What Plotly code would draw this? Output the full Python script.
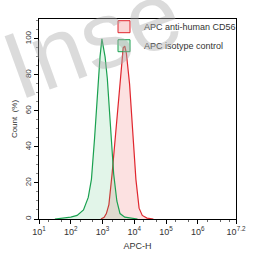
import plotly.graph_objects as go

# Isotype control histogram (log10 APC-H, % count)
iso_log = [1.5, 1.7, 2.0, 2.2, 2.4, 2.55, 2.65, 2.75, 2.85, 2.92, 2.98, 3.02, 3.08, 3.15, 3.25, 3.35, 3.45, 3.55, 3.7, 3.9, 4.1]
iso_val = [0, 0.5, 1, 2, 5, 12, 22, 45, 75, 90, 100, 96, 90, 78, 50, 25, 10, 3, 1, 0.3, 0]

# Anti-human CD56 histogram
cd56_log = [2.95, 3.05, 3.12, 3.2, 3.3, 3.4, 3.5, 3.6, 3.65, 3.7, 3.75, 3.85, 3.95, 4.05, 4.15, 4.25, 4.4, 4.6]
cd56_val = [0, 1, 3, 8, 25, 45, 68, 88, 95, 96, 92, 75, 50, 22, 6, 2, 0.5, 0]

series_names = ["APC anti-human CD56", "APC isotype control"]
tick_exp = [1, 2, 3, 4, 5, 6, 7.2]
tick_text = ["10<sup>1</sup>", "10<sup>2</sup>", "10<sup>3</sup>", "10<sup>4</sup>",
             "10<sup>5</sup>", "10<sup>6</sup>", "10<sup>7.2</sup>"]
y_ticks = [0, 20, 40, 60, 80, 100]

red_line, red_fill = "#e0262e", "rgba(240,120,120,0.22)"
green_line, green_fill = "#1aa150", "rgba(60,190,110,0.15)"

fig = go.Figure()
fig.add_trace(go.Scatter(
    x=[10 ** v for v in cd56_log], y=cd56_val, mode="lines", showlegend=False,
    line=dict(color=red_line, width=1.2), fill="tozeroy", fillcolor=red_fill))
fig.add_trace(go.Scatter(
    x=[10 ** v for v in iso_log], y=iso_val, mode="lines", showlegend=False,
    line=dict(color=green_line, width=1.2), fill="tozeroy", fillcolor=green_fill))
# legend entries (box symbols)
fig.add_trace(go.Bar(x=[None], y=[None], name=series_names[0],
                     marker=dict(color="rgba(240,120,120,0.3)", line=dict(color=red_line, width=1))))
fig.add_trace(go.Bar(x=[None], y=[None], name=series_names[1],
                     marker=dict(color="rgba(60,190,110,0.2)", line=dict(color=green_line, width=1))))

fig.update_layout(
    width=258, height=261,
    margin=dict(l=39, r=14, t=17, b=39),
    paper_bgcolor="white", plot_bgcolor="white",
    font=dict(family="Liberation Sans, Arial", size=8, color="#333"),
    showlegend=True,
    legend=dict(x=0.33, y=1.034, xanchor="left", yanchor="top", bgcolor="rgba(0,0,0,0)",
                font=dict(size=9, color="#333"), itemwidth=30, tracegroupgap=0),
)
fig.update_xaxes(
    type="log", range=[1, 7.2],
    tickvals=[10 ** e for e in tick_exp], ticktext=tick_text, tickfont=dict(size=9),
    ticks="outside", ticklen=4, tickcolor="#000", showline=True, linecolor="#000", linewidth=1,
    mirror=True, showgrid=False, zeroline=False,
    minor=dict(ticks="outside", ticklen=2, tickcolor="#666", showgrid=False),
    title=dict(text="APC-H", font=dict(size=9), standoff=6),
)
fig.update_yaxes(
    range=[0, 111], tickvals=y_ticks, tickangle=-90,
    ticks="outside", ticklen=4, tickcolor="#000", showline=True, linecolor="#000", linewidth=1,
    mirror=True, showgrid=False, zeroline=False,
    minor=dict(ticks="outside", ticklen=2, dtick=5, tickcolor="#888", showgrid=False),
    title=dict(text="Count  (%)", font=dict(size=8), standoff=4),
)
fig.add_annotation(
    text="Inse", xref="paper", yref="paper", x=0.27, y=0.9, xanchor="center", yanchor="middle",
    showarrow=False, textangle=-20, font=dict(size=95, color="rgba(170,170,170,0.42)", family="Liberation Sans"))

fig.write_html("out.html")
